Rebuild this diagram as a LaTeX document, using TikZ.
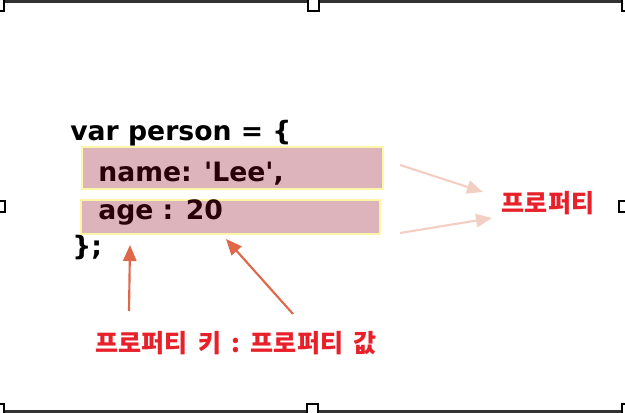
\documentclass[tikz,border=0pt]{standalone}
\usepackage{fontspec}
\newfontfamily\codefont{DejaVu Sans}
\newfontfamily\kofont{Noto Sans CJK KR}
\usetikzlibrary{arrows.meta}

\definecolor{boxfill}{RGB}{221,180,188}
\definecolor{boxline}{RGB}{255,246,168}
\definecolor{codeink}{RGB}{42,0,8}
\definecolor{lightarrow}{RGB}{243,207,195}
\definecolor{darkarrow}{RGB}{222,104,73}
\definecolor{labelred}{RGB}{232,32,42}
\definecolor{framebar}{RGB}{51,51,51}
\newcommand\kogap{\hspace{0.42em}}

\begin{document}
\begin{tikzpicture}[x=0.75pt,y=0.75pt,yscale=-1,xscale=1,
  codeline/.style={anchor=base west,inner sep=0pt,font=\codefont\fontsize{20}{24}\selectfont\bfseries},
  keylabel/.style={inner sep=0.75pt,text=labelred,font=\kofont\fontsize{18.8}{22}\selectfont\bfseries},
  propbox/.style={fill=boxfill,draw=boxline,line width=1.2pt},
  handle/.style={fill=white,draw=black,line width=0.9pt},
  pointer/.style={line width=1.6pt,-{Triangle[length=12pt,width=10pt]}}]
\useasboundingbox (0,0) rectangle (625,413);
\clip (0,0) rectangle (625,413);

%Frame bars
\fill [framebar] (0,0) rectangle (625,3.5);
\fill [framebar] (0,409.5) rectangle (625,413);
%Handles
\draw [handle] (-7,-1) rectangle (4,11);
\draw [handle] (308,-1) rectangle (319,11);
\draw [handle] (622,-1) rectangle (633,11);
\draw [handle] (-6,201) rectangle (5,212);
\draw [handle] (619,201) rectangle (630,212);
\draw [handle] (-7,404) rectangle (4,414);
\draw [handle] (307,404) rectangle (318,414);
\draw [handle] (622,404) rectangle (633,414);

%Property boxes
\draw [propbox] (82,147) rectangle (383,189);
\draw [propbox] (81,200) rectangle (380,234);

% Text Node
\node (open) [codeline] at (70,141) {var person = \{};
% Text Node
\node (name) [codeline,text=codeink] at (98,182) {name: 'Lee',};
% Text Node
\node (age) [codeline,text=codeink] at (98,220) {age : 20};
% Text Node
\node (close) [codeline] at (72,256) {\};};

% Text Node
\node (prop) [keylabel] at (548,203) {프로퍼티};
% Text Node
\node (keyval) [keylabel] at (236,343) {프로퍼티\kogap 키\kogap :\kogap 프로퍼티\kogap 값};

%Arrows to the property label
\coordinate (nametail) at (400,165);
\coordinate (namehead) at (483,192);
\coordinate (agetail) at (400,233);
\coordinate (agehead) at (492,218);
\draw [pointer,lightarrow] (nametail) -- (namehead);
\draw [pointer,lightarrow] (agetail) -- (agehead);

%Arrows to key and value
\coordinate (keytail) at (129,311);
\coordinate (keyhead) at (130,245);
\coordinate (valtail) at (293,314);
\coordinate (valhead) at (226,239);
\draw [pointer,darkarrow] (keytail) -- (keyhead);
\draw [pointer,darkarrow] (valtail) -- (valhead);

\end{tikzpicture}
\end{document}
